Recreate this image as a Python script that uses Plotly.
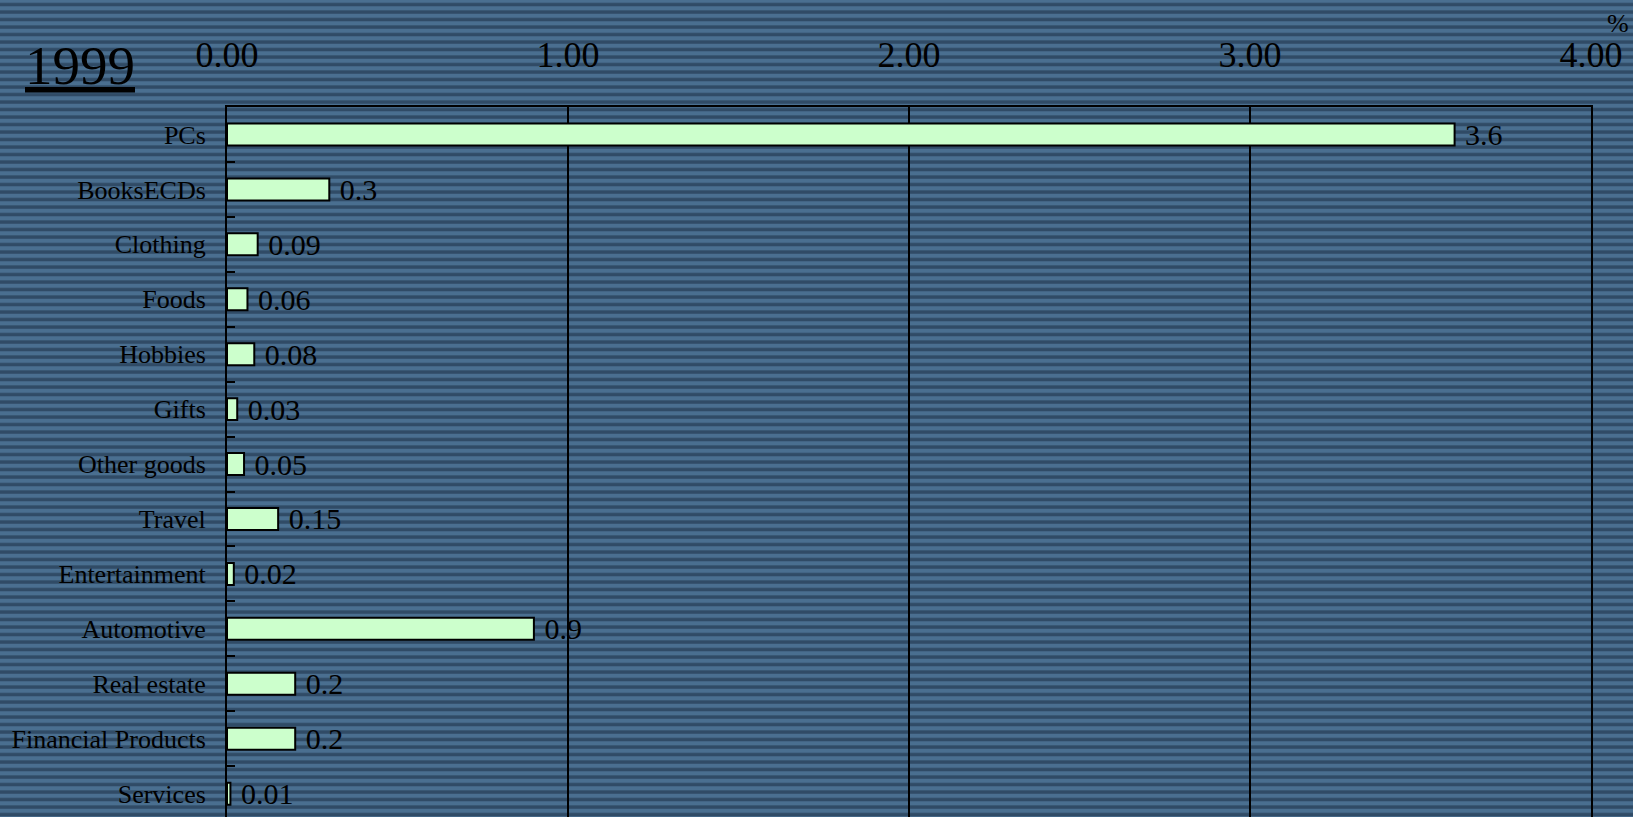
import plotly.graph_objects as go

categories = ["PCs", "BooksECDs", "Clothing", "Foods", "Hobbies", "Gifts", "Other goods",
              "Travel", "Entertainment", "Automotive", "Real estate", "Financial Products", "Services"]
values = [3.6, 0.3, 0.09, 0.06, 0.08, 0.03, 0.05, 0.15, 0.02, 0.9, 0.2, 0.2, 0.01]
value_labels = ["3.6", "0.3", "0.09", "0.06", "0.08", "0.03", "0.05", "0.15", "0.02", "0.9", "0.2", "0.2", "0.01"]
x_ticks = [0, 1, 2, 3, 4]
x_ticktext = ["0.00", "1.00", "2.00", "3.00", "4.00"]

W, H = 1633, 817
ML, MR, MT, MB = 227, 42, 107, 0
PW, PH = W - ML - MR, H - MT - MB

def px_x(p):
    return (p - ML) / PW

def px_y(p):
    return (H - MB - p) / PH

FONT = "Liberation Serif, Times New Roman, serif"

fig = go.Figure()
fig.add_trace(go.Bar(
    x=values, y=categories, orientation="h",
    marker=dict(color="#CCFFCC", line=dict(color="black", width=2)),
    text=[" " + t for t in value_labels], textposition="outside",
    textfont=dict(family=FONT, size=30, color="black"),
    constraintext="none", cliponaxis=False, hoverinfo="skip",
))

# striped background
shapes = []
period = 7.5
k = -1
while True:
    c = 0.8 + period * k
    if c - period > H:
        break
    shapes.append(dict(type="rect", xref="paper", yref="paper", layer="below",
                       x0=px_x(0), x1=px_x(W), y0=px_y(c - 1.8), y1=px_y(c + 1.8),
                       fillcolor="#4a6f90", line=dict(width=0)))
    shapes.append(dict(type="rect", xref="paper", yref="paper", layer="below",
                       x0=px_x(0), x1=px_x(W), y0=px_y(c + period / 2 - 1.4), y1=px_y(c + period / 2 + 1.4),
                       fillcolor="#304b66", line=dict(width=0)))
    k += 1

fig.update_layout(
    width=W, height=H,
    margin=dict(l=ML, r=MR, t=MT, b=MB, pad=0),
    paper_bgcolor="#3d5c7a", plot_bgcolor="rgba(0,0,0,0)",
    showlegend=False, bargap=0.6,
    shapes=shapes,
    font=dict(family=FONT, color="black"),
    xaxis=dict(side="top", range=[0, 4], tickvals=x_ticks, ticktext=x_ticktext,
               showgrid=True, gridcolor="black", gridwidth=1.8,
               showline=True, linecolor="black", linewidth=2, mirror=False,
               zeroline=False, ticks="", ticklabelstandoff=24,
               tickfont=dict(family=FONT, size=36, color="black")),
    yaxis=dict(type="category", categoryorder="array", categoryarray=categories,
               range=[12.425, -0.5], showgrid=False, zeroline=False,
               showline=True, linecolor="black", linewidth=2, mirror=True,
               ticks="inside", ticklen=8, tickwidth=1.6, tickcolor="black",
               tickson="boundaries", ticklabelstandoff=14,
               tickfont=dict(family=FONT, size=26, color="black")),
    annotations=[
        dict(text="<u>1999</u>", xref="paper", yref="paper", x=px_x(80), y=px_y(65),
             xanchor="center", yanchor="middle", showarrow=False,
             font=dict(family=FONT, size=55, color="black")),
        dict(text="%", xref="paper", yref="paper", x=px_x(1618), y=px_y(24),
             xanchor="center", yanchor="middle", showarrow=False,
             font=dict(family=FONT, size=26, color="black")),
    ],
)

fig.write_html("out.html")
